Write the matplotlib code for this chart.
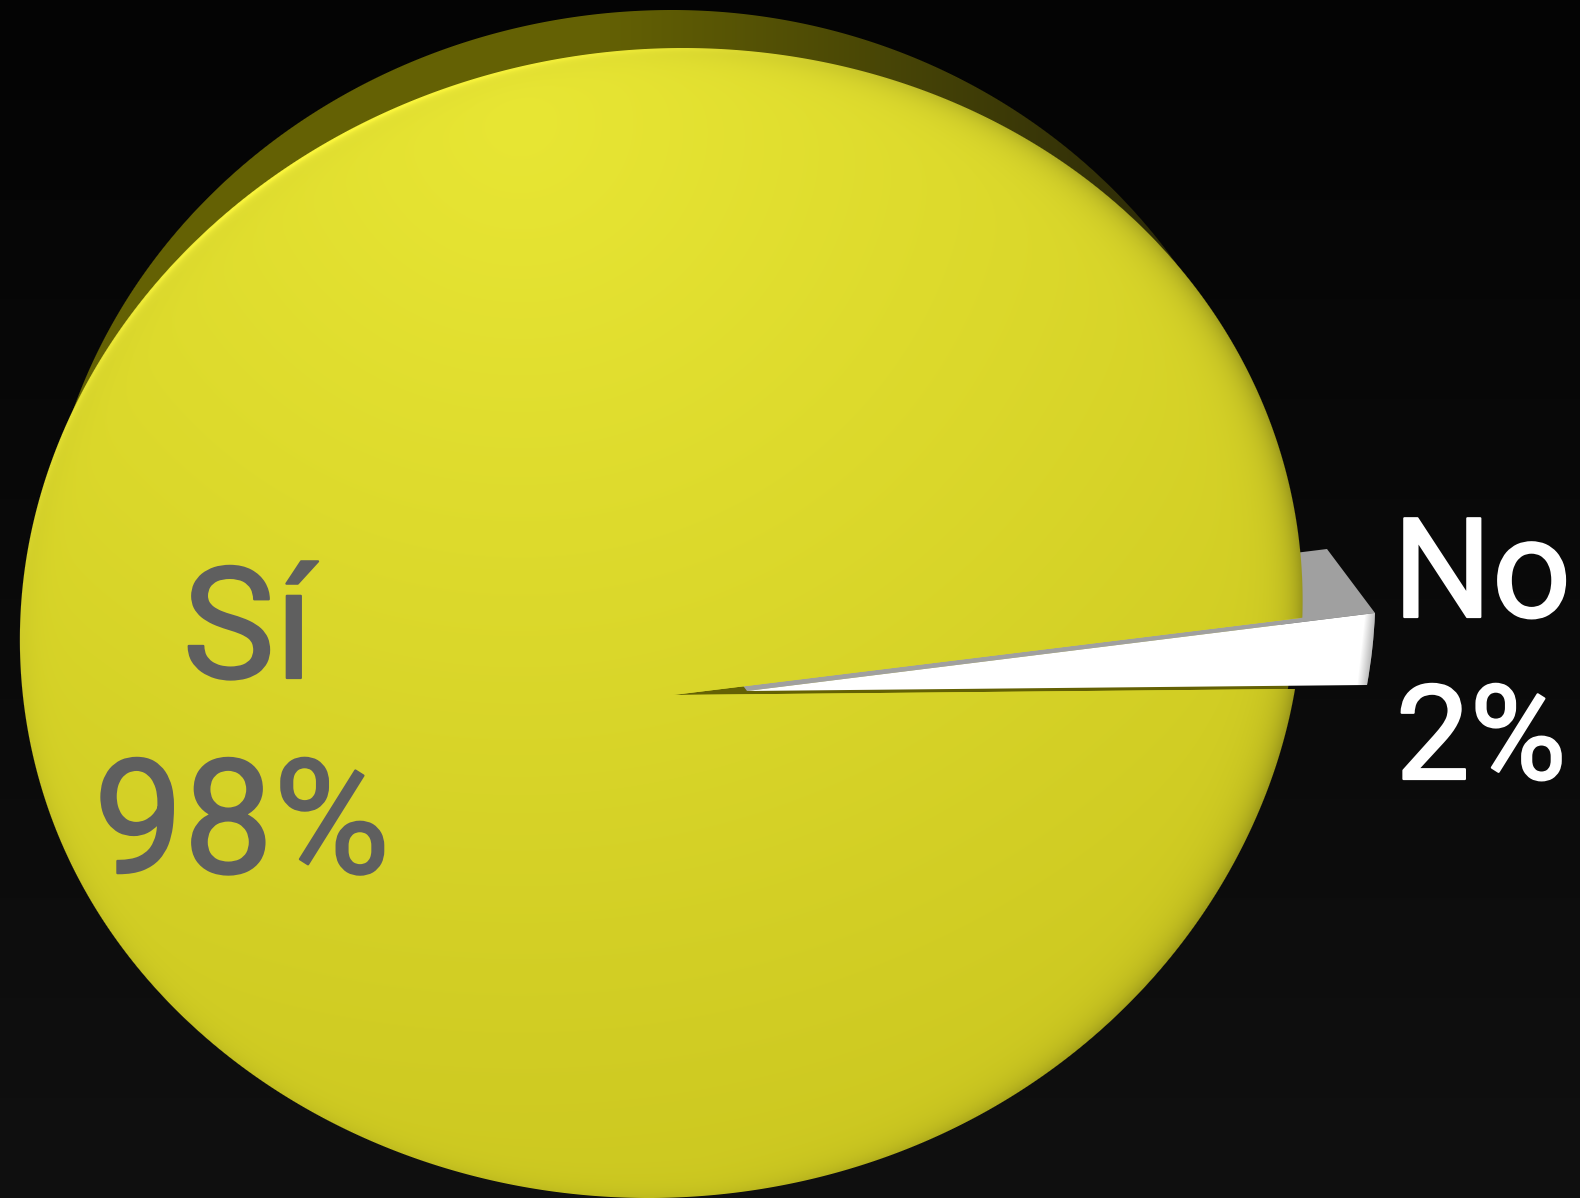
import numpy as np
import matplotlib
matplotlib.use("Agg")
import matplotlib.pyplot as plt
import matplotlib.patheffects as pe
from matplotlib.patches import Polygon
from matplotlib.transforms import Affine2D

labels = ["Sí", "No"]
shares = [98, 2]

W, H = 1580, 1198
FONT = "Roboto"


def wedge_tr(apex, low, high, th1, th2):
    # affine that sends the unit wedge th1..th2 to the tilted one in the picture
    a1, a2 = np.radians([th1, th2])
    src = np.array([[np.cos(a1), np.cos(a2)], [np.sin(a1), np.sin(a2)]])
    dst = np.array([[low[0] - apex[0], high[0] - apex[0]], [low[1] - apex[1], high[1] - apex[1]]])
    m = dst @ np.linalg.inv(src)
    return Affine2D(np.array([[m[0, 0], m[0, 1], apex[0]], [m[1, 0], m[1, 1], apex[1]], [0, 0, 1]]))


def disc_cx(y):
    # the disc leans a little, perspective of the 3d pie; lean fades out near the bottom
    u = np.clip(y - 800, 0, 300)
    return 662 - 0.038 * (np.minimum(y, 800) - 600) - 0.038 * u + 0.038 * u ** 2 / 600


def disc_rho(x, y):
    ry = np.where(y < 620, 572, 578)
    return np.sqrt(((x - disc_cx(y)) / 641) ** 2 + ((y - 620) / ry) ** 2)


def rim_rho(x, y):
    rx = np.where(x < 672, 630, np.where(y < 640, 610, 625))
    return np.sqrt(((x - 672) / rx) ** 2 + ((y - 590) / 580) ** 2)


fig = plt.figure(figsize=(W / 100, H / 100), dpi=100)
ax = fig.add_axes([0, 0, 1, 1])

yy, xx = np.mgrid[0:H, 0:W] + 0.5

# background
bg = 4 + 12 * yy / H
ax.imshow(np.dstack([bg, bg, bg]).astype(np.uint8), extent=(0, W, H, 0), zorder=0, interpolation="nearest")

# back of the disc
t = (np.clip((xx - 600) / 550, 0, 1) * (yy < 400))[..., None]
rim = np.array([100, 97, 4]) * (1 - t) + np.array([46, 44, 8]) * t
alpha = np.clip((1 - rim_rho(xx, yy)) * 600 + 0.5, 0, 1)[..., None]
ax.imshow(np.dstack([rim / 255, alpha]), extent=(0, W, H, 0), zorder=0.5, interpolation="nearest")

# pie, Si first so No ends up just above 1 degree
wedges, _ = ax.pie(shares, startangle=8.2, colors=["#DCDC28", "white"], radius=1,
                   wedgeprops={"linewidth": 0})
si, no = wedges
si.set_radius(3)
si.set_transform(wedge_tr((673, 695), (1293, 689), (1300, 618), no.theta1 - 360, no.theta2 - 360) + ax.transData)
no_low, no_high, no_apex = (1367, 685), (1375, 613), (747, 691)
no.set_transform(wedge_tr(no_apex, no_low, no_high, no.theta1 - 360, no.theta2 - 360) + ax.transData)
si.set_zorder(2)
no.set_zorder(4)

# clip the big Si wedge to the outline of the disc
ts = np.linspace(0, 2 * np.pi, 720)
oy = 620 + np.where(np.sin(ts) < 0, 570, 576) * np.sin(ts)
ox = disc_cx(oy) + 639 * np.cos(ts)
outline = Polygon(np.column_stack([ox, oy]), closed=True, transform=ax.transData)
si.set_clip_on(True)
si.set_clip_path(outline)

# grey side of the No slice, behind the disc
depth = np.array([-48, -64])
side = [no_apex, no_high, tuple(np.array(no_high) + depth), tuple(np.array(no_apex) + depth)]
ax.add_patch(Polygon(side, closed=True, fc="#A0A0A0", ec="none", zorder=1))

# shading of the disc
d = np.clip(np.hypot((xx - 520) / 1400, (yy - 120) / 1350), 0, 1)[..., None]
col = np.array([232, 230, 52]) * (1 - d) + np.array([198, 193, 28]) * d
rho = disc_rho(xx, yy)
edge = (1 - rho) * 600
ang = np.arctan2(yy - 620, xx - disc_cx(yy))
right = np.clip(np.cos(ang + 0.1), 0, 1)
fall = np.clip(edge, 0, None)
dark = 1 - 0.2 * right * np.exp(-fall / 16) - 0.07 * np.exp(-fall / 9)
col = col * dark[..., None]
topleft = np.clip(np.cos(ang + 2.2), 0, 1) ** 4
glow = topleft * np.exp(-np.clip(edge - 2, 0, None) / 4)
col = col + (np.array([250, 245, 60]) - col) * glow[..., None]
alpha = np.clip(edge + 0.5, 0, 1)[..., None]
im = ax.imshow(np.dstack([np.clip(col, 0, 255) / 255, alpha]), extent=(0, W, H, 0), zorder=3,
               interpolation="nearest")
im.set_clip_path(si)

# soft grey at the outer end of the No slice
x_end = no_low[0] + (no_high[0] - no_low[0]) * (no_low[1] - yy) / (no_low[1] - no_high[1])
shade = np.clip(1 - (x_end - xx) / 10, 0, 1) * 0.45
shade_im = ax.imshow(np.dstack([np.full_like(shade, 0.45), np.full_like(shade, 0.45), np.full_like(shade, 0.45), shade]),
                     extent=(0, W, H, 0), zorder=4.5, interpolation="nearest")
shade_im.set_clip_path(no)

ax.set_aspect("auto")
ax.set_xlim(0, W)
ax.set_ylim(H, 0)
ax.axis("off")

# labels, regular weight is a bit thin so fatten it with a small stroke
for x, y, s, size, c in [(248, 678, labels[0], 112, "#5F5F5F"),
                         (242, 873, f"{shares[0]}%", 115, "#5F5F5F"),
                         (1482, 617, labels[1], 100, "white"),
                         (1481, 779, f"{shares[1]}%", 95, "white")]:
    txt = ax.text(x, y, s, family=FONT, fontsize=size, color=c, ha="center", va="baseline", zorder=5)
    txt.set_path_effects([pe.withStroke(linewidth=1.6, foreground=c)])

fig.savefig("out.png", dpi=100)
